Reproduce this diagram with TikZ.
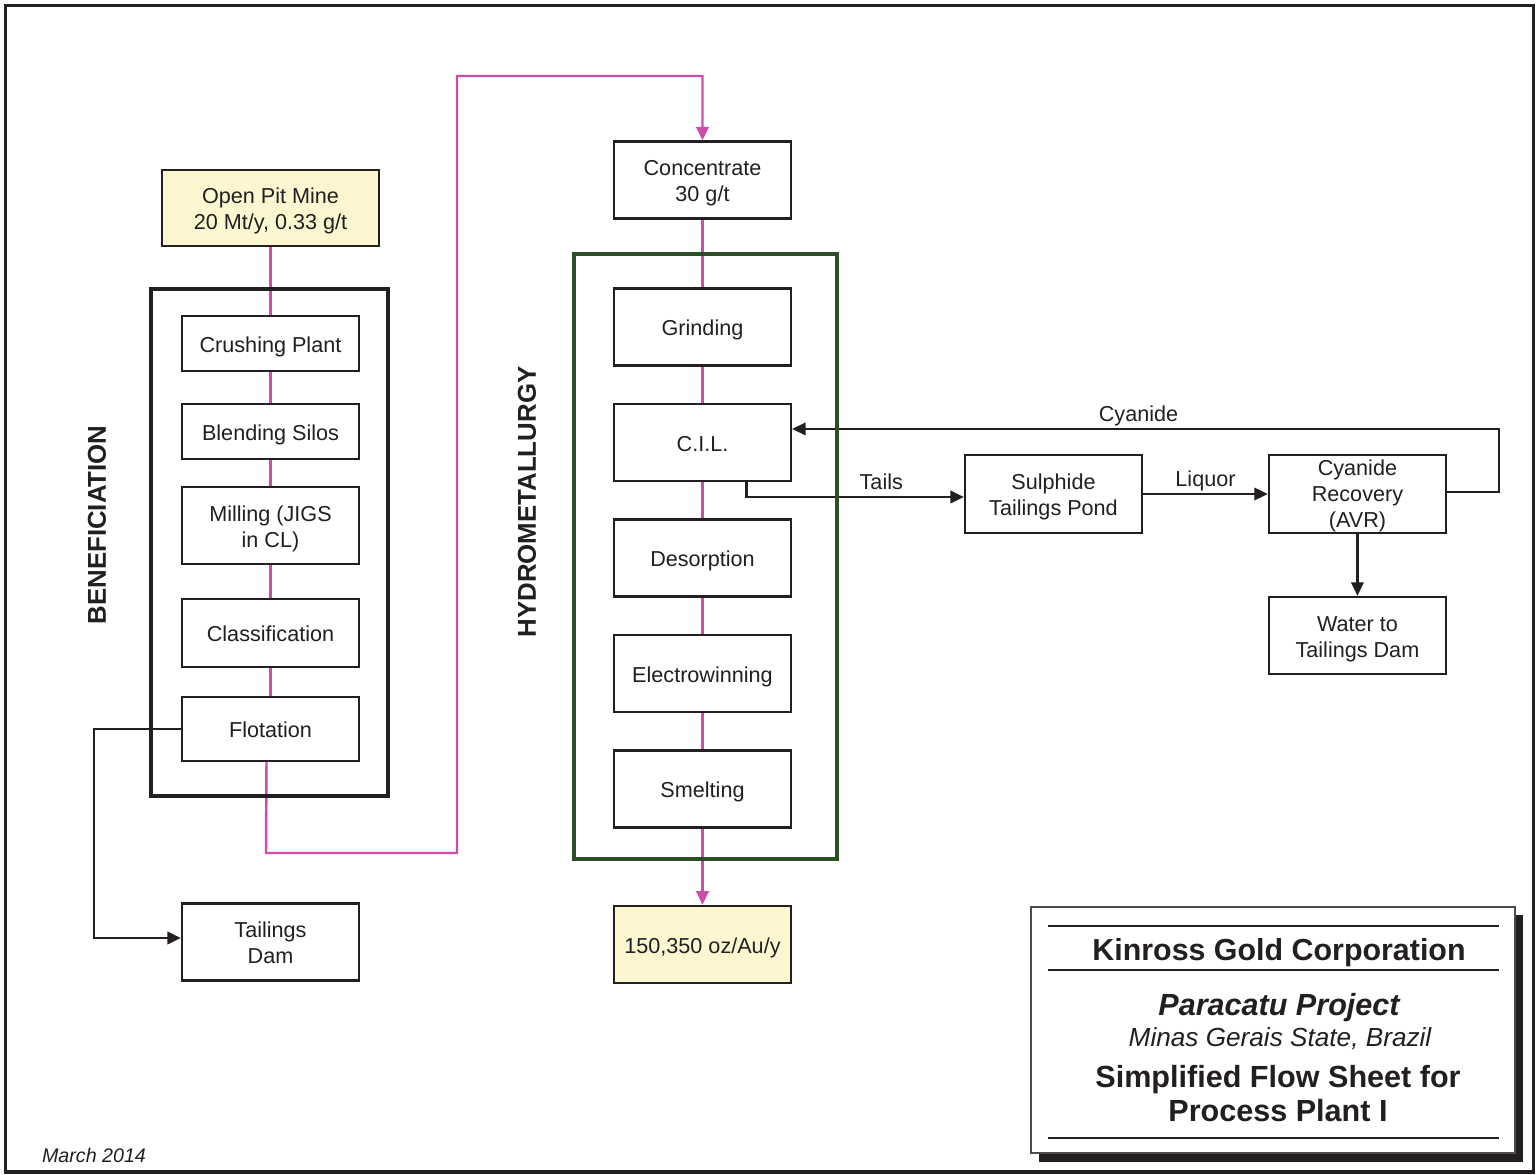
\documentclass[tikz,border=0pt]{standalone}
\usepackage{fontspec}
\setmainfont{Liberation Sans}
\usetikzlibrary{shapes.geometric, arrows.meta}
\definecolor{flowpink}{RGB}{204,78,168}
\definecolor{hydrogreen}{RGB}{44,78,38}
\definecolor{orefill}{RGB}{252,247,208}
\definecolor{ink}{RGB}{35,31,32}
\tikzstyle{process} = [rectangle,
minimum width=3.54cm,
minimum height=1.54cm,
text centered,
align=center,
font=\fontsize{12.3}{14.9}\selectfont,
text=ink,
execute at begin node={\rule{0pt}{13pt}},
execute at end node={\rule[-3pt]{0pt}{3pt}},
line width=1.3pt,
draw=ink,
fill=white]
\tikzstyle{stack} = [execute at begin node={\rule{0pt}{28pt}}] % two-line text sits a bit lower
\tikzstyle{stackthree} = [inner ysep=0pt, execute at begin node={\rule{0pt}{41pt}}]
\tikzstyle{product} = [process, fill=orefill]
\tikzstyle{tag} = [font=\fontsize{12.3}{14.7}\selectfont, text=ink, text depth=2.6pt, inner sep=1pt]
\tikzstyle{heading} = [rotate=90, font=\bfseries\fontsize{14.7}{17}\selectfont, text=ink]
\tikzstyle{arrow} = [line width=1.2pt, draw=ink, -{Triangle[length=0.27cm,width=0.25cm]}]
\tikzstyle{flow} = [line width=1.4pt, draw=flowpink]
\tikzstyle{flowarrow} = [flow, -{Triangle[length=0.27cm,width=0.25cm]}]

\begin{document}
\begin{tikzpicture}[x=0.02cm, y=-0.02cm, node distance=2.31cm]
\useasboundingbox (0,0) rectangle (1536,1175);

% beneficiation column
\node (mine) [product, stack, minimum width=4.34cm, minimum height=1.52cm] at (270.5,208) {Open Pit Mine\\20 Mt/y, 0.33 g/t};
\node (crush) [process, minimum height=1.1cm] at (270.5,343.5) {Crushing Plant};
\node (blend) [process, minimum height=1.1cm, below of=crush, yshift=0.55cm] {Blending Silos};
\node (mill) [process, stack, below of=blend, yshift=0.43cm] {Milling (JIGS\\in CL)};
\node (classif) [process, minimum height=1.36cm, below of=mill, yshift=0.16cm] {Classification};
\node (flot) [process, minimum height=1.28cm, below of=classif, yshift=0.39cm] {Flotation};
\node (tdam) [process, stack] at (270.5,942) {Tailings\\Dam};

% hydrometallurgy column
\node (conc) [process, stack] at (702.5,180) {Concentrate\\30 g/t};
\node (grind) [process, below of=conc, yshift=-0.63cm] {Grinding};
\node (cil) [process, below of=grind] {C.I.L.};
\node (desorp) [process, below of=cil] {Desorption};
\node (electro) [process, below of=desorp] {Electrowinning};
\node (smelt) [process, below of=electro] {Smelting};
\node (gold) [product, below of=smelt, yshift=-0.8cm] {150,350 oz/Au/y};

% cyanide recovery
\node (pond) [process, stack, minimum height=1.56cm] at (1053.5,494) {Sulphide\\Tailings Pond};
\node (avr) [process, stackthree, minimum height=1.56cm, right of=pond, node distance=6.08cm] {Cyanide\\Recovery\\(AVR)};
\node (water) [process, stack, below of=avr, yshift=-0.52cm] {Water to\\Tailings Dam};

\node (benef) [heading] at (97,525) {BENEFICIATION};
\node (hydro) [heading] at (527,502) {HYDROMETALLURGY};

\coordinate (fbot) at (266,853);
\coordinate (ftop) at (457,76);

\draw [flow] (mine) -- (crush);
\draw [flow] (crush) -- (blend);
\draw [flow] (blend) -- (mill);
\draw [flow] (mill) -- (classif);
\draw [flow] (classif) -- (flot);
\draw [flowarrow] ([xshift=-0.08cm]flot.south) -- (fbot) -| (ftop) -| (conc.north);
\draw [arrow] (flot.west) -- ++(-87,0) |- ([yshift=0.08cm]tdam.west);

\draw [flow] (conc) -- (grind);
\draw [flow] (grind) -- (cil);
\draw [flow] (cil) -- (desorp);
\draw [flow] (desorp) -- (electro);
\draw [flow] (electro) -- (smelt);
\draw [flowarrow] (smelt) -- (gold);

\draw [arrow] ([xshift=0.88cm]cil.south) |- node[tag, pos=0.81, above] {Tails} ([yshift=-0.06cm]pond.west);
\draw [arrow] (pond) -- node[tag, above] {Liquor} (avr);
\draw [arrow] ([yshift=0.04cm]avr.east) -- ++(52,0) |- node[tag, pos=0.755, above] {Cyanide} ([yshift=0.27cm]cil.east);
\draw [arrow] (avr) -- (water);

% group frames
\draw [line width=2.6pt, draw=ink] (151,289) rectangle (388,796);
\draw [line width=2.3pt, draw=hydrogreen] (574,254) rectangle (837,859);

% title block
\fill [ink] (1039,915) rectangle (1523,1162);
\draw [fill=white, draw=black!70, line width=0.7pt] (1031,907) rectangle (1515,1153);
\draw [line width=1.6pt, draw=ink] (1048,926) -- (1499,926);
\draw [line width=1.6pt, draw=ink] (1048,970) -- (1499,970);
\draw [line width=1.6pt, draw=ink] (1048,1138) -- (1499,1138);
\node (corp) [text=ink, font=\bfseries\fontsize{17.3}{20}\selectfont] at (1279,953) {Kinross Gold Corporation};
\node (proj) [text=ink, font=\bfseries\itshape\fontsize{17.4}{20}\selectfont] at (1279,1008) {Paracatu Project};
\node (state) [text=ink, font=\itshape\fontsize{14.9}{17}\selectfont] at (1280,1039) {Minas Gerais State, Brazil};
\node (sheet) [text=ink, align=center, font=\bfseries\fontsize{17.4}{19.3}\selectfont] at (1278,1094) {Simplified Flow Sheet for\\Process Plant I};
\node (date) [text=ink, font=\itshape\fontsize{11.2}{13}\selectfont] at (94,1155) {March 2014};

% outer frame
\draw [line width=2pt, draw=ink] (5.5,5.5) rectangle (1533.5,1172);
\end{tikzpicture}
\end{document}
